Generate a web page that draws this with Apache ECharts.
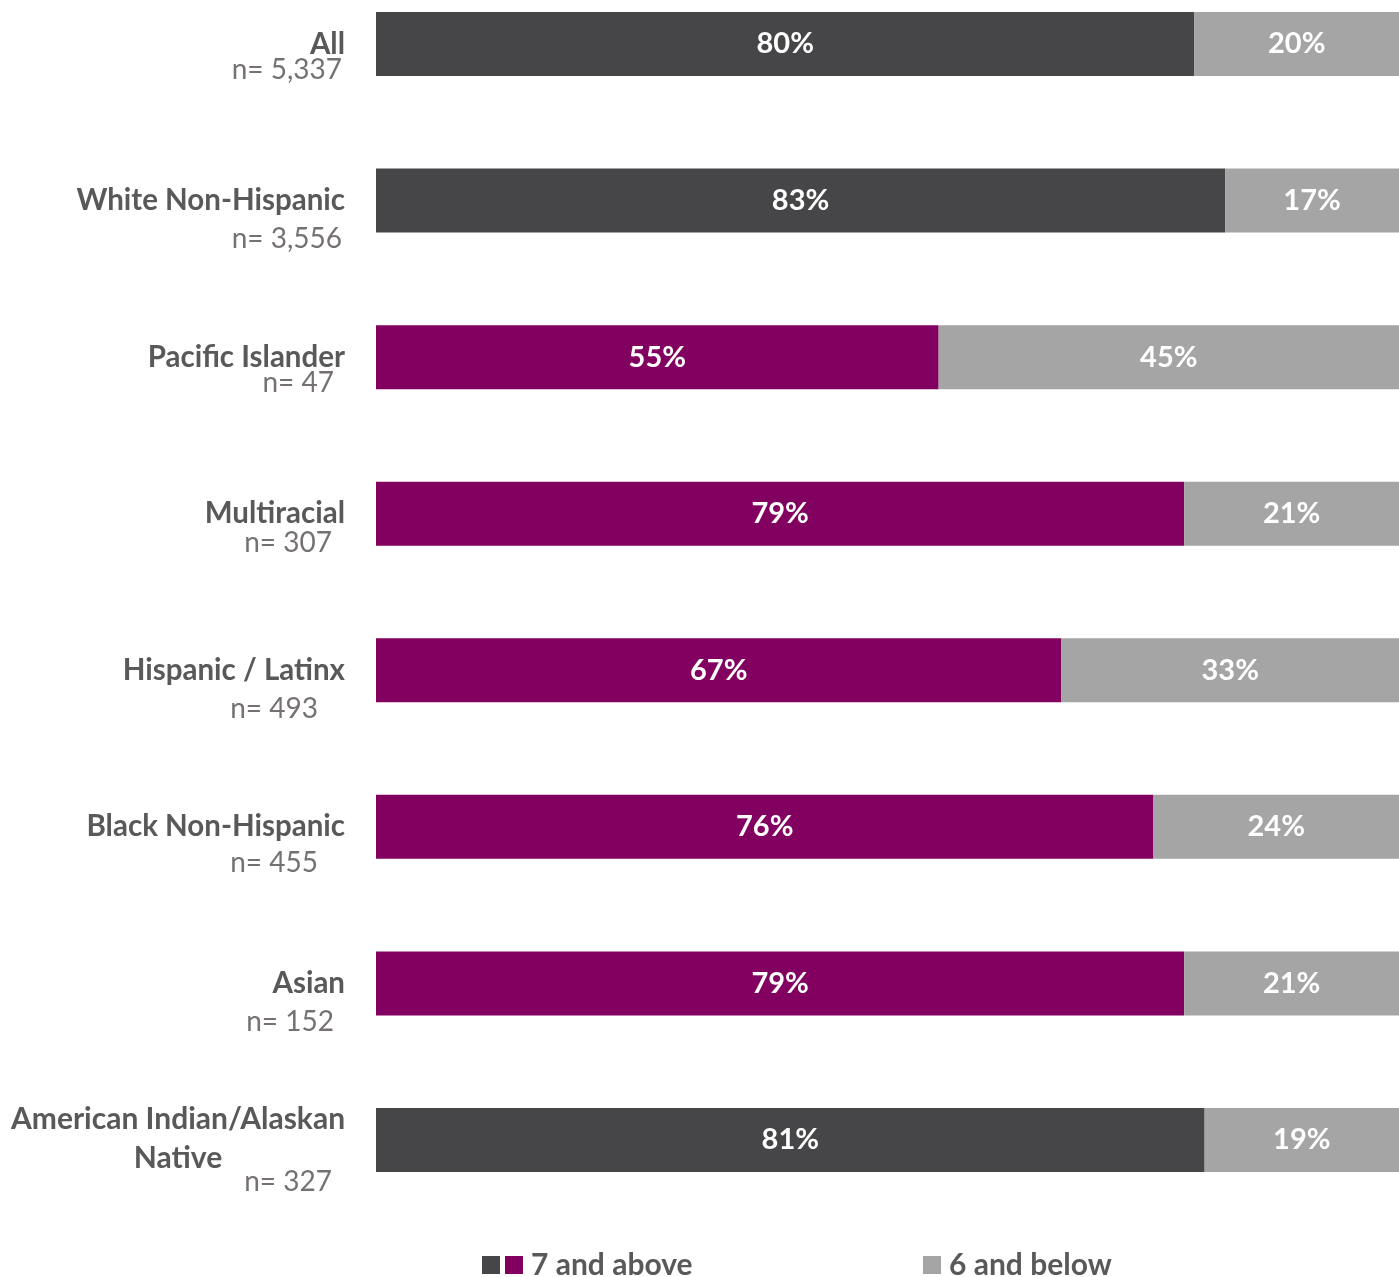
<!DOCTYPE html>
<html>
<head>
<meta charset="utf-8">
<style>
  html, body { margin: 0; padding: 0; background: #ffffff; }
  #chart { width: 1399px; height: 1277px; }
</style>
<script src="https://cdn.jsdelivr.net/npm/echarts@6/dist/echarts.min.js"></script>
</head>
<body>
<div id="chart"></div>
<script>
// Groups shown top to bottom
const groups = ['All', 'White Non-Hispanic', 'Pacific Islander', 'Multiracial',
  'Hispanic / Latinx', 'Black Non-Hispanic', 'Asian', 'American Indian/Alaskan\nNative'];
const sampleSizes = ['n= 5,337', 'n= 3,556', 'n= 47', 'n= 307', 'n= 493', 'n= 455', 'n= 152', 'n= 327'];

// Share of ratings, percent
const sevenAndAbove = [80, 83, 55, 79, 67, 76, 79, 81];
const sixAndBelow = [20, 17, 45, 21, 33, 24, 21, 19];

// Rows highlighted in purple
const highlighted = [false, false, true, true, true, true, true, false];

const DARK = '#464648';
const PURPLE = '#820060';
const GRAY = '#a5a5a5';
const FONT = 'Lato';

// Per-row placement of the "n=" line: vertical offset below the name, right edge x
const nLayout = [[26, 342], [38, 342], [26, 334], [29, 332], [39, 318], [36, 318], [39, 334], [42, 332]];

const chart = echarts.init(document.getElementById('chart'));

const barLabel = {
  show: true,
  position: 'inside',
  color: '#ffffff',
  fontFamily: FONT,
  fontWeight: 'bold',
  fontSize: 29,
  formatter: p => p.value + '%'
};

const legendText = { fontFamily: FONT, fontWeight: 'bold', fontSize: 30, lineHeight: 34, color: '#595959' };

chart.setOption({
  animation: false,
  grid: { left: 376, right: 0, top: 44, bottom: 137, containLabel: false },
  xAxis: { type: 'value', min: 0, max: 100, show: false },
  yAxis: {
    type: 'category',
    data: groups,
    inverse: true,
    boundaryGap: false,
    axisLine: { show: false },
    axisTick: { show: false },
    axisLabel: { show: false },
    splitLine: { show: false }
  },
  legend: [
    {
      data: ['7 and above'],
      left: 482, top: 1250, padding: 0,
      itemWidth: 18, itemHeight: 18, itemGap: 0,
      icon: 'rect',
      formatter: name => '{p|}{t|' + name + '}',
      textStyle: {
        rich: {
          p: { width: 18, height: 18, backgroundColor: PURPLE },
          t: Object.assign({ padding: [0, 0, 0, 8] }, legendText)
        }
      }
    },
    {
      data: ['6 and below'],
      left: 923, top: 1250, padding: 0,
      itemWidth: 18, itemHeight: 18,
      icon: 'rect',
      formatter: name => '{t|' + name + '}',
      textStyle: {
        rich: { t: Object.assign({ padding: [0, 0, 0, 3] }, legendText) }
      }
    }
  ],
  series: [
    {
      name: '7 and above',
      type: 'bar',
      stack: 'total',
      barWidth: 64,
      clip: false,
      itemStyle: { color: DARK },
      label: barLabel,
      data: sevenAndAbove.map((v, i) => ({ value: v, itemStyle: { color: highlighted[i] ? PURPLE : DARK } }))
    },
    {
      name: '6 and below',
      type: 'bar',
      stack: 'total',
      barWidth: 64,
      clip: false,
      itemStyle: { color: GRAY },
      label: barLabel,
      data: sixAndBelow
    }
  ]
});

// Row labels: bold group name with the sample size beneath
const texts = [];
groups.forEach((g, i) => {
  const y = chart.convertToPixel({ yAxisIndex: 0 }, i);
  const twoLine = g.indexOf('\n') >= 0;
  texts.push({
    type: 'text',
    x: twoLine ? 178 : 345,
    y: twoLine ? y - 21 - 19.5 : y,
    style: {
      text: g,
      fontFamily: FONT, fontWeight: 'bold', fontSize: twoLine ? 30 : 29.5, lineHeight: 39,
      fill: '#595959',
      align: twoLine ? 'center' : 'right',
      verticalAlign: twoLine ? 'top' : 'middle'
    }
  });
  texts.push({
    type: 'text',
    x: nLayout[i][1],
    y: y + nLayout[i][0],
    style: {
      text: sampleSizes[i],
      fontFamily: FONT, fontSize: 28,
      fill: '#767171',
      align: 'right',
      verticalAlign: 'middle'
    }
  });
});
chart.setOption({ graphic: texts });
</script>
</body>
</html>
